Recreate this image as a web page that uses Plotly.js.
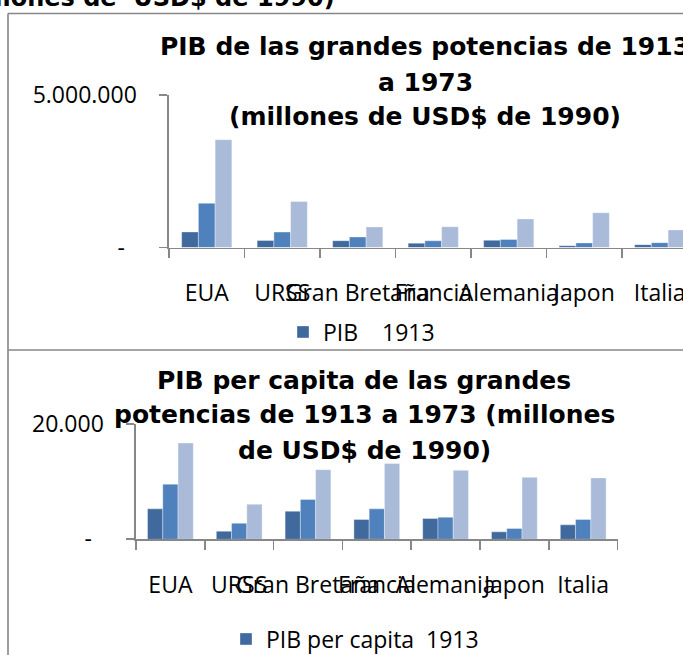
<!DOCTYPE html>
<html>
<head>
<meta charset="utf-8">
<script src="https://cdn.plot.ly/plotly-3.0.1.min.js"></script>
<style>html,body{margin:0;padding:0;background:#fff;overflow:hidden;width:683px;height:655px;}#chart{width:683px;height:668px;}</style>
</head>
<body>
<div id="chart"></div>
<script>
// ---- data ----
const categories = ["EUA", "URSS", "Gran Bretaña", "Francia", "Alemania", "Japon", "Italia"];
const years = ["1913", "1950", "1973"];
// PIB (millones de USD$ de 1990)
const pib1913 = [510000, 230000, 222000, 142000, 235000, 60000, 92000];
const pib1950 = [1450000, 505000, 345000, 220000, 262000, 150000, 158000];
const pib1973 = [3535000, 1510000, 675000, 680000, 935000, 1140000, 575000];
// PIB per capita
const pc1913 = [5280, 1400, 4870, 3430, 3600, 1290, 2510];
const pc1950 = [9560, 2780, 6900, 5280, 3830, 1870, 3430];
const pc1973 = [16700, 6080, 12080, 13160, 11960, 10750, 10650];
const pibTicks = [0, 5000000];
const pibTickText = ["-\u00a0\u00a0", "5.000.000"];
const pcTicks = [0, 20000];
const pcTickText = ["-\u00a0\u00a0", "20.000"];
const legendPib = "PIB\u00a0\u00a0\u00a0\u00a01913";
const legendPc = "PIB per capita\u00a0\u00a01913";

// ---- style ----
const W = 683, H = 668;
const px = v => v / W;
const py = v => 1 - v / H;
const colors = ["#40699d", "#4f81bd", "#a9bbd9"];
const axc = "#878787";
const lw = 1.6;
const lab = {family: "Open Sans", size: 23, color: "#000"};
const ttl = {family: "DejaVu Sans", size: 25, color: "#000", weight: "bold"};
const catW1 = 75.5;

const series1 = [pib1913, pib1950, pib1973];
const series2 = [pc1913, pc1950, pc1973];
const traces = [];
series1.forEach((vals, i) => traces.push({
  type: "bar", x: categories, y: vals, xaxis: "x", yaxis: "y",
  name: i === 0 ? legendPib : "PIB " + years[i], legend: "legend",
  showlegend: i === 0, offsetgroup: "a" + i,
  marker: {color: colors[i], line: {color: "rgba(255,255,255,0.35)", width: 1}}
}));
series2.forEach((vals, i) => traces.push({
  type: "bar", x: categories, y: vals, xaxis: "x2", yaxis: "y2",
  name: i === 0 ? legendPc : "PIB per capita " + years[i], legend: "legend2",
  showlegend: i === 0, offsetgroup: "b" + i,
  marker: {color: colors[i], line: {color: "rgba(255,255,255,0.35)", width: 1}}
}));

function xax(domain, range, anchor) {
  return {domain: domain, range: range, type: "category", anchor: anchor,
    showline: true, linecolor: axc, linewidth: lw, ticks: "outside", ticklen: 9,
    tickcolor: axc, tickwidth: lw, tickson: "boundaries", tickangle: 0,
    tickfont: lab, ticklabelstandoff: 24, showgrid: false, zeroline: false, fixedrange: true};
}
function yax(domain, range, vals, text, anchor) {
  return {domain: domain, range: range, anchor: anchor, tickmode: "array",
    tickvals: vals, ticktext: text, showline: true, linecolor: axc, linewidth: lw,
    ticks: "outside", ticklen: 8, tickcolor: axc, tickwidth: lw, tickfont: lab,
    ticklabelstandoff: 18, showgrid: true, gridcolor: axc, gridwidth: lw,
    zeroline: false, fixedrange: true};
}

function line(x0, y0, x1, y1) {
  return {type: "line", xref: "paper", yref: "paper", x0: px(x0), y0: py(y0),
    x1: px(x1), y1: py(y1), line: {color: axc, width: 1.6}, layer: "below"};
}
function note(text, x, y, font, xanchor) {
  return {text: text, xref: "paper", yref: "paper", x: px(x), y: py(y),
    xanchor: xanchor || "center", yanchor: "middle", showarrow: false, font: font};
}

const layout = {
  width: W, height: H, margin: {l: 0, r: 0, t: 0, b: 0},
  paper_bgcolor: "#fff", plot_bgcolor: "rgba(0,0,0,0)",
  barmode: "group", bargap: 0.335, bargroupgap: 0,
  xaxis: xax([px(169), 1], [-0.5, -0.5 + (W - 169) / catW1], "y"),
  yaxis: yax([py(247.5), py(95)], [0, 5000000], pibTicks, pibTickText, "x"),
  xaxis2: xax([px(136), px(617.6)], [-0.5, 6.5], "y2"),
  yaxis2: yax([py(539.3), py(424)], [0, 20000], pcTicks, pcTickText, "x2"),
  legend: {x: px(283), y: py(332), xanchor: "left", yanchor: "middle",
    orientation: "h", font: lab, bgcolor: "rgba(0,0,0,0)", itemwidth: 30},
  legend2: {x: px(226), y: py(639), xanchor: "left", yanchor: "middle",
    orientation: "h", font: lab, bgcolor: "rgba(0,0,0,0)", itemwidth: 30},
  shapes: [
    line(8, 13.5, W, 13.5), line(8, 13.5, 8, 350),
    line(8, 350, W, 350), line(8, 350, 8, H)
  ],
  annotations: [
    note("(millones de\u00a0\u00a0USD$ de 1990)", 337, -2.5, {family: "DejaVu Sans", size: 24, color: "#000", weight: "bold"}, "right"),
    note("PIB de las grandes potencias de 1913", 425, 46.5, ttl),
    note("a 1973", 425, 82, ttl),
    note("(millones de USD$ de 1990)", 425, 116.5, ttl),
    note("PIB per capita de las grandes", 364, 380.7, ttl),
    note("potencias de 1913 a 1973 (millones", 364, 414.7, ttl),
    note("de USD$ de 1990)", 364, 450.7, ttl)
  ]
};

Plotly.newPlot("chart", traces, layout, {staticPlot: true, displayModeBar: false});
</script>
</body>
</html>
